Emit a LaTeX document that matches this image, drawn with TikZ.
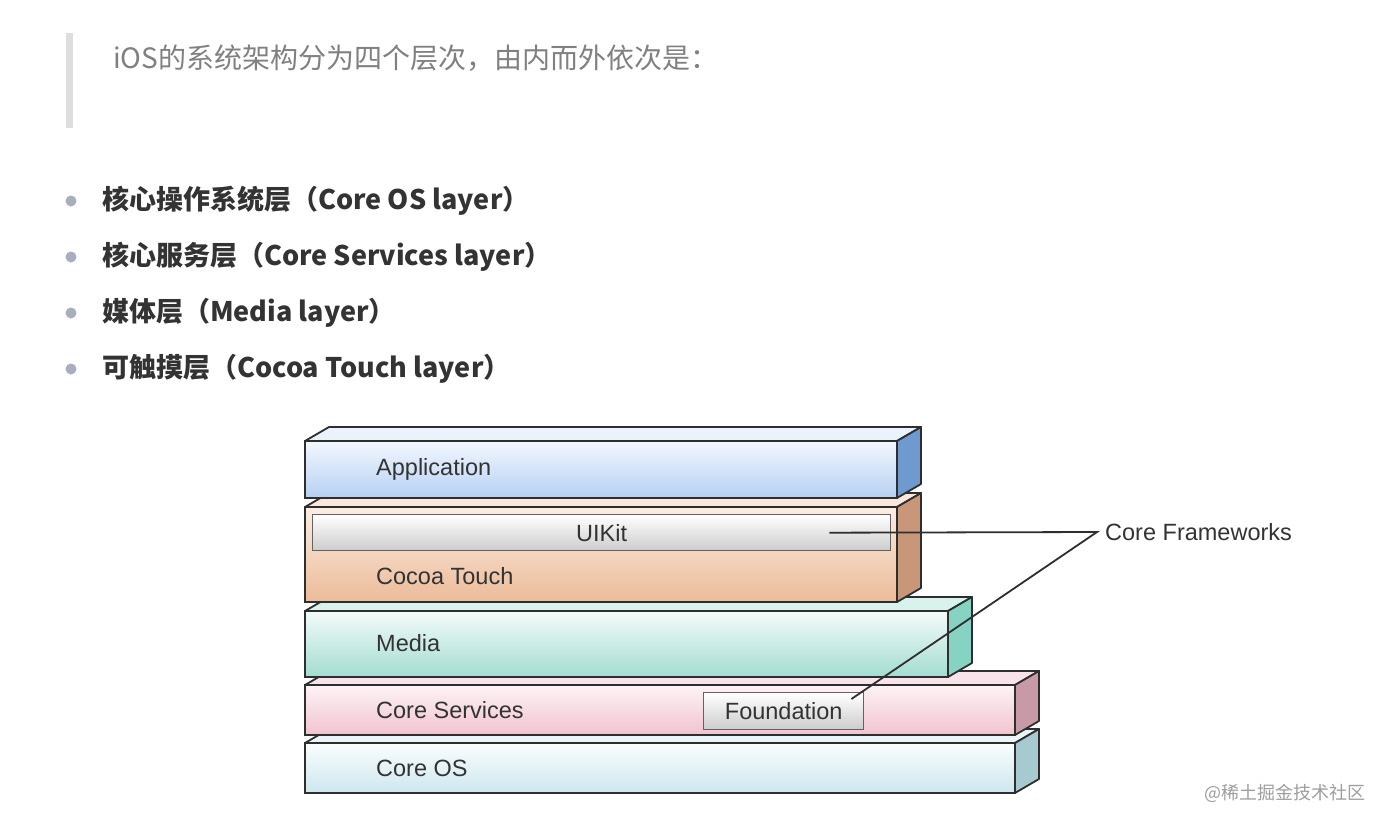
\documentclass[tikz,border=0pt]{standalone}
\usepackage{fontspec}
\setmainfont{Liberation Sans}
\newfontfamily\cjk{Noto Sans CJK SC}
\usetikzlibrary{calc}
\definecolor{txt}{HTML}{333333}
\definecolor{edge}{HTML}{2E2E2E}
\definecolor{osTop}{HTML}{E9F5F8}
\definecolor{osSide}{HTML}{A6CACF}
\definecolor{osA}{HTML}{FAFDFE}
\definecolor{osB}{HTML}{CDE7EF}
\definecolor{csTop}{HTML}{F8E3EA}
\definecolor{csSide}{HTML}{C89AA8}
\definecolor{csA}{HTML}{FDF3F6}
\definecolor{csB}{HTML}{F1C3CF}
\definecolor{mdTop}{HTML}{D8F2EC}
\definecolor{mdSide}{HTML}{86D3C4}
\definecolor{mdA}{HTML}{F4FBFA}
\definecolor{mdB}{HTML}{A3DCD1}
\definecolor{ctTop}{HTML}{FBE8DC}
\definecolor{ctSide}{HTML}{C8977A}
\definecolor{ctA}{HTML}{FCEDE3}
\definecolor{ctB}{HTML}{EBBB98}
\definecolor{apTop}{HTML}{EAF2FC}
\definecolor{apSide}{HTML}{6E9AD0}
\definecolor{apA}{HTML}{F3F8FE}
\definecolor{apB}{HTML}{B6D0F3}
\definecolor{dotc}{HTML}{A8AEBC}
\begin{document}
\begin{tikzpicture}[x=1pt,y=-1pt,
  front/.style={draw=edge,line width=1.8pt,anchor=north west,inner sep=0pt,outer sep=0pt,rectangle},
  topface/.style={draw=edge,line width=1.8pt,line join=round},
  sideface/.style={draw=edge,line width=1.8pt,line join=round},
  lbl/.style={anchor=west,inner sep=0pt,text=txt,font=\fontsize{23.5}{26}\selectfont},
  subbox/.style={draw=edge!75,line width=1.4pt,top color=white,bottom color=black!20,anchor=north west,inner sep=0pt,rectangle},
  bullet/.style={circle,fill=dotc,minimum size=11pt,inner sep=0pt},
  item/.style={anchor=west,inner sep=0pt,text=txt,font=\fontsize{27}{32}\selectfont\cjk\bfseries},
  conn/.style={draw=edge,line width=1.8pt}]
\useasboundingbox (0,0) rectangle (1389,827);
\fill[white] (0,0) rectangle (1389,827);
% quote bar and heading
\fill[black!13] (66,33) rectangle (73,128);
\node[anchor=west,inner sep=0pt,text=black!50,font=\fontsize{28}{32}\selectfont\cjk] (title) at (113,58) {iOS的系统架构分为四个层次，由内而外依次是：};
% bullets
\node[bullet] (b1) at (71,201) {};
\node[bullet] (b2) at (71,257) {};
\node[bullet] (b3) at (71,313) {};
\node[bullet] (b4) at (71,369) {};
\node[item] (i1) at (102,201) {核心操作系统层（Core OS layer）};
\node[item] (i2) at (102,257) {核心服务层（Core Services layer）};
\node[item] (i3) at (102,313) {媒体层（Media layer）};
\node[item] (i4) at (102,369) {可触摸层（Cocoa Touch layer）};
% Core OS
\path[topface,fill=osTop] (305,743) -- (329,729) -- (1039,729) -- (1015,743) -- cycle;
\path[sideface,fill=osSide] (1015,743) -- (1039,729) -- (1039,779) -- (1015,793) -- cycle;
\node[front,top color=osA,bottom color=osB,minimum width=710pt,minimum height=50pt] (coreos) at (305,743) {};
\node[lbl] (lcoreos) at (376,768) {Core OS};
% Core Services
\path[topface,fill=csTop] (305,685) -- (329,671) -- (1039,671) -- (1015,685) -- cycle;
\path[sideface,fill=csSide] (1015,685) -- (1039,671) -- (1039,721) -- (1015,735) -- cycle;
\node[front,top color=csA,bottom color=csB,minimum width=710pt,minimum height=50pt] (coreservices) at (305,685) {};
\node[lbl] (lcoreservices) at (376,710) {Core Services};
\node[subbox,minimum width=160pt,minimum height=37pt] (foundation) at (703,692) {};
\node[inner sep=0pt,text=txt,font=\fontsize{23.5}{26}\selectfont] (lfoundation) at (foundation.center) {Foundation};
% Media
\path[topface,fill=mdTop] (305,611) -- (329,597) -- (972,597) -- (948,611) -- cycle;
\path[sideface,fill=mdSide] (948,611) -- (972,597) -- (972,663) -- (948,677) -- cycle;
\node[front,top color=mdA,bottom color=mdB,minimum width=643pt,minimum height=66pt] (media) at (305,611) {};
\node[lbl] (lmedia) at (376,643) {Media};
% Cocoa Touch
\path[topface,fill=ctTop] (305,507) -- (329,493) -- (921,493) -- (897,507) -- cycle;
\path[sideface,fill=ctSide] (897,507) -- (921,493) -- (921,588) -- (897,602) -- cycle;
\node[front,top color=ctA,bottom color=ctB,minimum width=592pt,minimum height=95pt] (cocoa) at (305,507) {};
\node[lbl] (lcocoa) at (376,576) {Cocoa Touch};
\node[subbox,minimum width=578pt,minimum height=36pt] (uikit) at (312,514) {};
\node[inner sep=0pt,text=txt,font=\fontsize{23.5}{26}\selectfont] (luikit) at (uikit.center) {UIKit};
% Application
\path[topface,fill=apTop] (305,441) -- (329,427) -- (921,427) -- (897,441) -- cycle;
\path[sideface,fill=apSide] (897,441) -- (921,427) -- (921,484) -- (897,498) -- cycle;
\node[front,top color=apA,bottom color=apB,minimum width=592pt,minimum height=57pt] (application) at (305,441) {};
\node[lbl] (lapplication) at (376,469) {Application};
% connectors
\node[anchor=west,inner sep=0pt,text=txt,font=\fontsize{23.5}{26}\selectfont] (cf) at (1105,532) {Core Frameworks};
\coordinate (apex) at ($(cf.west)+(-8,0)$);
\draw[conn] ($(uikit.east)+(-62,0)$) -- (apex) -- ($(foundation.north east)+(-13,7)$);
% footer
\node[anchor=east,inner sep=0pt,text=black!38,font=\fontsize{18}{22}\selectfont\cjk] (wm) at (1366,793) {@稀土掘金技术社区};
\end{tikzpicture}
\end{document}
